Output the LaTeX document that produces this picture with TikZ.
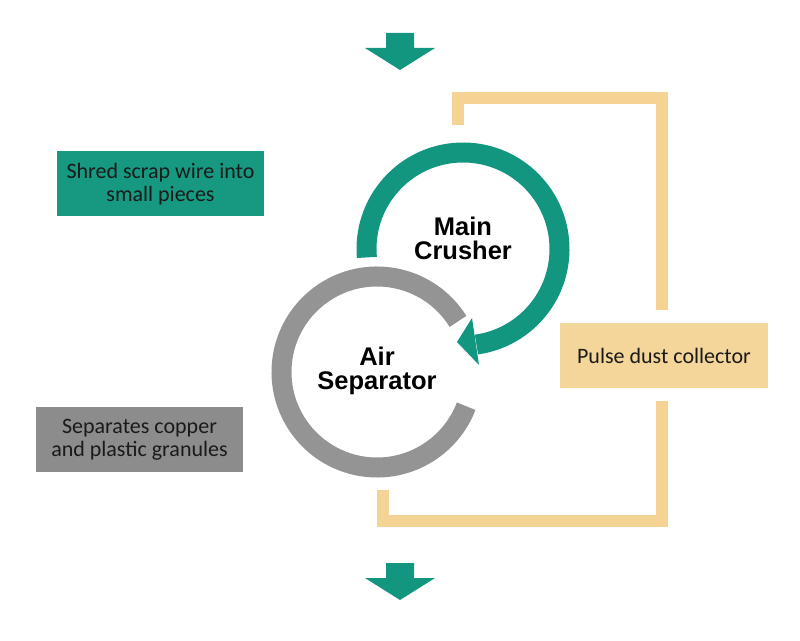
\documentclass[tikz,border=0pt]{standalone}
\usepackage{fontspec}
\setmainfont{Carlito}
\newfontfamily\labfont{Liberation Sans}
\definecolor{teal1}{RGB}{18,150,127}
\definecolor{tealbox}{RGB}{23,152,128}
\definecolor{grayring}{RGB}{148,148,148}
\definecolor{graybox}{RGB}{140,140,140}
\definecolor{yell}{RGB}{244,211,148}
\definecolor{yellbox}{RGB}{245,214,154}
\definecolor{txt}{RGB}{26,26,26}
\tikzset{
  infobox/.style={minimum width=207pt, minimum height=65pt, inner sep=0pt, align=center,
    text=txt, font=\fontsize{22}{23}\selectfont},
  ringlabel/.style={inner sep=0pt, align=center, text=black,
    font=\labfont\bfseries\fontsize{25.5}{24}\selectfont},
  ring/.style={line width=20pt, line cap=butt},
  duct/.style={draw=yell, line width=12pt, line cap=butt, line join=miter},
  flowarrow/.style={fill=teal1, draw=none}
}
\begin{document}
\begin{tikzpicture}[x=1pt,y=1pt]
\useasboundingbox (0,0) rectangle (800,640);
% circle centres
\coordinate (gc) at (463,391);
\coordinate (ac) at (377,268);
% rings
\draw[ring, draw=teal1] (gc) ++(185:96.5) arc[start angle=185, end angle=-82, radius=96.5];
\fill[teal1] (457,298) -- (472,322) -- (479,275) -- cycle;
\draw[ring, draw=grayring] (ac) ++(32:95.5) arc[start angle=32, end angle=339, radius=95.5];
% ring labels
\node[ringlabel] (crusher) at (463,402) {Main\\Crusher};
\node[ringlabel] (separator) at (377,269) {Air\\Separator};
% info boxes
\node[infobox, fill=tealbox] (shred) at (160.5,456) {Shred scrap wire into\\small pieces};
\node[infobox, fill=graybox] (sep) at (139.5,200.5) {Separates copper\\and plastic granules};
\node[infobox, fill=yellbox, minimum width=208pt] (pulse) at (664,284.5) {Pulse dust collector};
% ducts
\coordinate (t1) at (458,515);
\coordinate (t2) at (458,542);
\coordinate (t3) at (662,542);
\coordinate (t4) at ([xshift=-2pt,yshift=13pt]pulse.north);
\draw[duct] (t1) -- (t2) -- (t3) -- (t4);
\coordinate (b1) at ([xshift=-2pt,yshift=-13pt]pulse.south);
\coordinate (b2) at (662,119);
\coordinate (b3) at (383,119);
\coordinate (b4) at (383,150);
\draw[duct] (b1) -- (b2) -- (b3) -- (b4);
% flow arrows
\fill[flowarrow] (386,607) -- (414,607) -- (414,592) -- (435,592) -- (400,570) -- (365,592) -- (386,592) -- cycle;
\fill[flowarrow] (386,77) -- (414,77) -- (414,62) -- (435,62) -- (400,40) -- (365,62) -- (386,62) -- cycle;
\end{tikzpicture}
\end{document}
